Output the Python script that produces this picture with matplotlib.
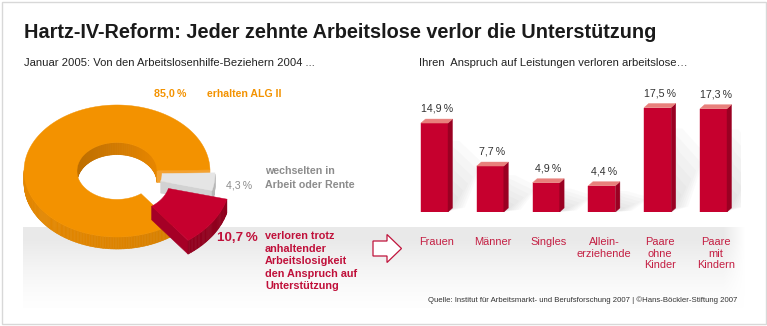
import numpy as np
import matplotlib
matplotlib.use('Agg')
import matplotlib.pyplot as plt
from matplotlib.patches import Polygon, Rectangle
from matplotlib.collections import PolyCollection
from matplotlib.colors import to_rgb
from matplotlib.transforms import blended_transform_factory

plt.rcParams['font.family'] = ['Liberation Sans', 'DejaVu Sans']

W, H = 767, 326

# ring: where the 2004 Arbeitslosenhilfe recipients were in January 2005
ring_labels = ['erhalten ALG II', 'verloren den Anspruch', 'wechselten in Arbeit oder Rente']
ring_shares = [85.0, 10.7, 4.3]

# bars: share who lost their entitlement, by group
groups = ['Frauen', 'Männer', 'Singles', 'Allein-\nerziehende', 'Paare\nohne\nKinder', 'Paare\nmit\nKindern']
lost_share = [14.9, 7.7, 4.9, 4.4, 17.5, 17.3]

ORANGE = '#F39200'
RED = '#C6002E'
GREY_TXT = '#8C8C8C'
RED_TXT = '#C0103A'


def pct(v):
    return f"{v:.1f}".replace('.', ',') + '\u2009%'


def shade(c, f):
    return tuple(np.clip(np.array(to_rgb(c)) * f, 0, 1))


fig = plt.figure(figsize=(W / 100, H / 100), dpi=100)
ax = fig.add_axes([0, 0, 1, 1])
ax.set_xlim(0, W)
ax.set_ylim(H, 0)
ax.axis('off')

# frame
ax.add_patch(Rectangle((1.5, 1.5), W - 3, H - 4, fill=False, ec='#D8D8D8', lw=1, zorder=1))

# grey band behind the lower part, fading downwards and at the right end
bx0, bx1, by0, by1 = 23, 746, 227, 308
ny, nx = 80, 400
fy = np.linspace(0, 1, ny)[:, None]
fx = np.linspace(0, 1, nx)[None, :]
alpha = np.clip(1.15 - fy, 0, 1) ** 1.6 * np.clip((1 - fx) / 0.03, 0, 1)
band = np.zeros((ny, nx, 4))
band[..., :3] = 0.915
band[..., 3] = alpha
ax.imshow(band, extent=(bx0, bx1, by1, by0), aspect='auto', zorder=0, interpolation='bilinear')

# ---- 3D ring --------------------------------------------------------------
CX, CY = 117, 171
RO, RI = 93, 40
K = 0.71
DEPTH = 12
START = 1.0
tops = [ORANGE, RED, '#E5E5E5']
sides = ['#E08500', '#98001F', '#C4C4C4']
cuts = ['#F3A232', '#A50026', '#D2D2D2']
inner = ['#D27A00', '#8A001C', '#B5B5B5']
offsets = [(0, 0), (15, 13), (5, 3)]
scales = [1.0, 1.14, 1.0]


def make_pt(i):
    off, sc = offsets[i], scales[i]
    t1, t2 = angles[i]
    am = np.radians((t1 + t2) / 2)
    rm = (RO + RI) / 2
    mx, my = CX + rm * np.cos(am), CY - K * rm * np.sin(am)

    def pt(r, t, z):
        a = np.radians(t)
        x = CX + r * np.cos(a)
        y = CY - K * r * np.sin(a)
        return (mx + sc * (x - mx) + off[0], my + sc * (y - my + z) + off[1])
    return pt


angles = []
a0 = START
for s in ring_shares:
    a1 = a0 + 360 * s / sum(ring_shares)
    angles.append((a0, a1))
    a0 = a1


def mid_depth(i):
    t1, t2 = angles[i]
    return make_pt(i)((RO + RI) / 2, (t1 + t2) / 2, 0)[1]


for zi, i in enumerate(sorted(range(len(ring_shares)), key=mid_depth)):
    t1, t2 = angles[i]
    pt = make_pt(i)
    z = 3 + zi
    ts = np.linspace(t1, t2, max(3, int((t2 - t1) / 1.0)))
    # inner wall, visible through the hole on the far side
    quads, cols = [], []
    for a, b in zip(ts[:-1], ts[1:]):
        m = np.radians((a + b) / 2)
        if np.sin(m) > 0:
            quads.append([pt(RI, a, 0), pt(RI, b, 0), pt(RI, b, DEPTH), pt(RI, a, DEPTH)])
            cols.append(shade(inner[i], 1.0 + 0.1 * np.cos(m)))
    if quads:
        ax.add_collection(PolyCollection(quads, facecolors=cols, edgecolors=cols, lw=0.4, zorder=z))
    # cut faces
    for t, visible in ((t1, np.cos(np.radians(t1)) > 0), (t2, np.cos(np.radians(t2)) < 0)):
        if visible:
            ax.add_patch(Polygon([pt(RI, t, 0), pt(RO, t, 0), pt(RO, t, DEPTH), pt(RI, t, DEPTH)],
                                 closed=True, fc=cuts[i], ec=cuts[i], lw=0.4, zorder=z))
    # outer wall on the near side
    quads, cols = [], []
    for a, b in zip(ts[:-1], ts[1:]):
        m = np.radians((a + b) / 2)
        if np.sin(m) < 0:
            quads.append([pt(RO, a, 0), pt(RO, b, 0), pt(RO, b, DEPTH), pt(RO, a, DEPTH)])
            cols.append(shade(sides[i], 0.97 + 0.04 * np.cos(m - np.radians(200))))
    if quads:
        ax.add_collection(PolyCollection(quads, facecolors=cols, edgecolors=cols, lw=0.4, zorder=z))
    # top face
    outer_pts = [pt(RO, t, 0) for t in ts]
    inner_pts = [pt(RI, t, 0) for t in ts[::-1]]
    ax.add_patch(Polygon(outer_pts + inner_pts, closed=True, fc=tops[i], ec=tops[i], lw=0.3, zorder=z))

# ring annotations
ax.text(154, 97, pct(ring_shares[0]), color=ORANGE, fontsize=7.7, fontweight='bold', va='baseline', zorder=10)
ax.text(207, 97, ring_labels[0], color=ORANGE, fontsize=7.6, fontweight='bold', va='baseline', zorder=10)
ax.text(265, 174, 'wechselten in', color=GREY_TXT, fontsize=7.7, fontweight='bold', va='baseline', zorder=10)
ax.text(265, 188, 'Arbeit oder Rente', color=GREY_TXT, fontsize=7.7, fontweight='bold', va='baseline', zorder=10)
ax.text(252, 188, pct(ring_shares[2]), color=GREY_TXT, fontsize=7.6, ha='right', va='baseline', zorder=10)
ax.text(258, 241, pct(ring_shares[1]), color=RED_TXT, fontsize=9.6, fontweight='bold', ha='right', va='baseline', zorder=10)
for j, line in enumerate(['verloren trotz', 'anhaltender', 'Arbeitslosigkeit', 'den Anspruch auf', 'Unterstützung']):
    ax.text(265, 239.3 + j * 12.5, line, color=RED_TXT, fontsize=7.8, fontweight='bold', va='baseline', zorder=10)

# arrow pointing to the groups
ax.add_patch(Polygon([(373, 241), (387, 241), (387, 234.5), (401.5, 248.5), (387, 262.5), (387, 256), (373, 256)],
                     closed=True, fc='white', ec='#C0143C', lw=0.9, zorder=10))

# titles
ax.text(24, 38, 'Hartz-IV-Reform: Jeder zehnte Arbeitslose verlor die Unterstützung',
        fontsize=14.3, fontweight='bold', color='#1A1A1A', va='baseline')
ax.text(24, 66, 'Januar 2005: Von den Arbeitslosenhilfe-Beziehern 2004 ...',
        fontsize=8.1, color='#222222', va='baseline')
ax.text(419, 66, 'Ihren  Anspruch auf Leistungen verloren arbeitslose…',
        fontsize=8.1, color='#222222', va='baseline')
ax.text(737, 302, 'Quelle: Institut für Arbeitsmarkt- und Berufsforschung 2007 | ©Hans-Böckler-Stiftung 2007',
        fontsize=5.6, color='#333333', ha='right', va='baseline')

# ---- 3D bars --------------------------------------------------------------
BASE = 212
PX_PER_PCT = 5.97
STEP = 55.8
X0 = 434.5
TOP_PX = 60
x_left = X0 - 0.5 * STEP
x_right = X0 + 5.5 * STEP
axb = fig.add_axes([x_left / W, (H - BASE) / H, (x_right - x_left) / W, (BASE - TOP_PX) / H])
axb.set_xlim(-0.5, 5.5)
axb.set_ylim(0, (BASE - TOP_PX) / PX_PER_PCT)
axb.axis('off')
axb.patch.set_alpha(0)

bw = 27 / STEP
dxu = 4.5 / STEP
dyu = 4 / PX_PER_PCT
xs = np.arange(len(lost_share))

# soft shadows cast back to the right
for x, v in zip(xs, lost_share):
    xr = x + bw / 2
    for k in range(6):
        f = 1 - k * 0.14
        axb.add_patch(Polygon([(xr - 0.05, 0), (xr + 0.3 * f, 0.05 * v), (xr + 0.62 * f, 0.55 * v * f),
                               (xr + 0.2 * f, 0.8 * v * f), (xr - 0.05, 0.8 * v)],
                              closed=True, fc='#7A7A7A', ec='none', alpha=0.03, zorder=1))

axb.bar(xs, lost_share, width=bw, color=RED, edgecolor=RED, lw=0.3, zorder=3)
for x, v in zip(xs, lost_share):
    xr = x + bw / 2
    axb.add_patch(Polygon([(xr, 0), (xr + dxu, dyu), (xr + dxu, v + dyu), (xr, v)],
                          closed=True, fc='#9A0022', ec='#9A0022', lw=0.3, zorder=3))
    axb.add_patch(Polygon([(x - bw / 2, v), (xr, v), (xr + dxu, v + dyu), (x - bw / 2 + dxu, v + dyu)],
                          closed=True, fc='#E8807C', ec='#E8807C', lw=0.3, zorder=4))
    axb.text(x + dxu / 2, v + dyu + 7.5 / PX_PER_PCT, pct(v), ha='center', va='baseline',
             fontsize=7.7, color='#333333', zorder=5, clip_on=False)

# group labels under the bars
tr = blended_transform_factory(axb.transData, ax.transData)
for x, name in zip(xs, groups):
    for j, line in enumerate(name.split('\n')):
        ax.text(x + dxu / 2, 245 + j * 11.7, line, transform=tr, ha='center', va='baseline',
                fontsize=7.9, color='#C41F43', zorder=10)

fig.savefig('out.png', dpi=100)
